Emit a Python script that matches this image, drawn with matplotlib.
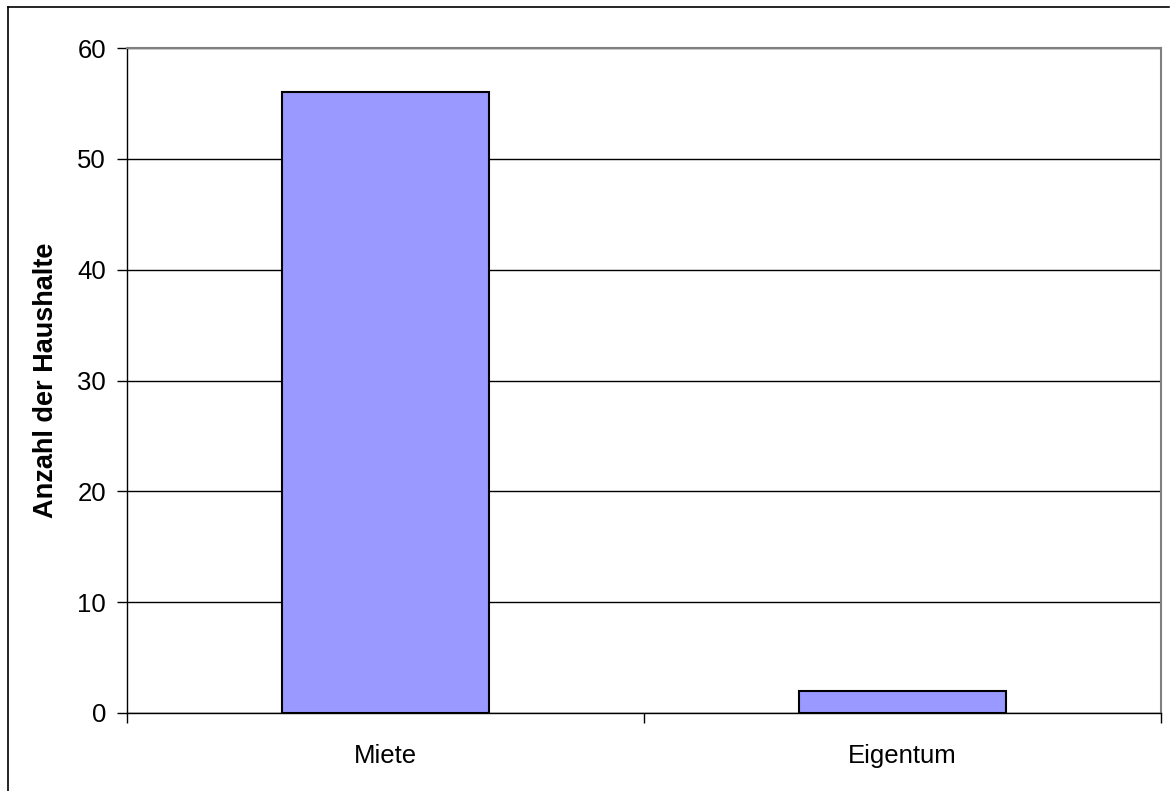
import matplotlib
matplotlib.use("Agg")
import matplotlib.pyplot as plt
from matplotlib.lines import Line2D

categories = ["Miete", "Eigentum"]
households = [56, 2]
y_ticks = [0, 10, 20, 30, 40, 50, 60]

plt.rcParams["font.family"] = ["Liberation Sans", "DejaVu Sans"]

W, H = 1174, 791
fig = plt.figure(figsize=(W / 100, H / 100), dpi=100)
ax = fig.add_axes([127 / W, 1 - 713 / H, (1161 - 127) / W, (713 - 48) / H])

x = list(range(len(categories)))
ax.bar(x, households, width=0.4, color="#9999FF", edgecolor="black", linewidth=1.5, zorder=3)

ax.set_xlim(-0.5, len(categories) - 0.5)
ax.set_ylim(0, 60)
ax.set_yticks(y_ticks)
ax.set_yticklabels([str(v) for v in y_ticks], fontsize=18.5)

# category labels centred, tick marks between categories
ax.set_xticks([i - 0.5 for i in range(len(categories) + 1)])
ax.set_xticklabels([])
ax.set_xticks(x, minor=True)
ax.set_xticklabels(categories, minor=True, fontsize=18.5)
ax.tick_params(axis="x", which="minor", length=0, pad=22)
ax.tick_params(axis="x", which="major", direction="out", length=7, width=1, color="black")
ax.tick_params(axis="y", direction="out", length=7, width=1, color="black", pad=8)

ax.yaxis.grid(True, color="black", linewidth=1, zorder=1)
ax.set_axisbelow(True)

for side in ("top", "right"):
    ax.spines[side].set_color("#808080")
    ax.spines[side].set_linewidth(1.5)
for side in ("left", "bottom"):
    ax.spines[side].set_color("black")
    ax.spines[side].set_linewidth(1)

ax.set_ylabel("Anzahl der Haushalte", fontsize=19.5, fontweight="bold", labelpad=13)

# outer chart frame
fig.add_artist(Line2D([8 / W, 8 / W], [0, 1 - 7 / H], color="black", linewidth=1.2, transform=fig.transFigure))
fig.add_artist(Line2D([8 / W, 1169 / W], [1 - 7 / H, 1 - 7 / H], color="black", linewidth=1.2, transform=fig.transFigure))

fig.savefig("out.png", dpi=100)
